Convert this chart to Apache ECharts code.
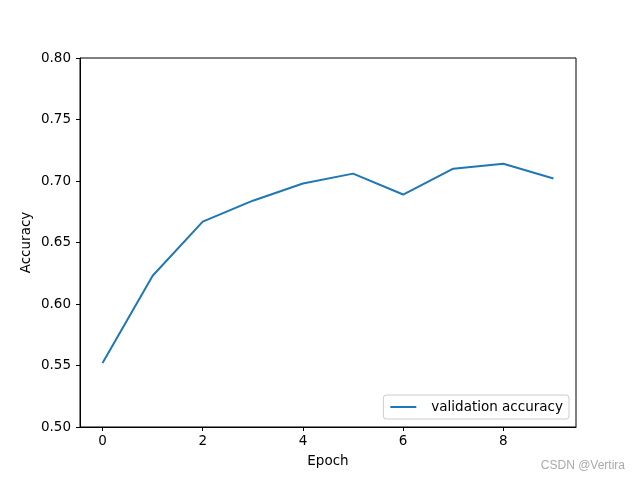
<!DOCTYPE html>
<html>
<head>
<meta charset="utf-8">
<script src="https://cdn.jsdelivr.net/npm/echarts@6/dist/echarts.min.js"></script>
<style>html,body{margin:0;padding:0;background:#fff}#c{width:640px;height:480px}</style>
</head>
<body>
<div id="c"></div>
<script>
const epochs = [0, 1, 2, 3, 4, 5, 6, 7, 8, 9];
const valAcc = [0.552, 0.623, 0.667, 0.684, 0.698, 0.706, 0.689, 0.710, 0.714, 0.702];
const xTicks = [0, 2, 4, 6, 8];
const seriesName = 'validation accuracy';

const font = 'DejaVu Sans';
const chart = echarts.init(document.getElementById('c'), null, {renderer: 'canvas'});
chart.setOption({
  animation: false,
  backgroundColor: '#fff',
  grid: {left: 80, right: 64, top: 58, bottom: 53, show: true, borderColor: '#000', borderWidth: 1, backgroundColor: 'transparent'},
  xAxis: {
    type: 'value', min: -0.45, max: 9.45,
    name: 'Epoch', nameLocation: 'middle', nameGap: 27,
    nameTextStyle: {fontFamily: font, fontSize: 13.5, color: '#000'},
    axisLine: {show: true, onZero: false, lineStyle: {color: '#000', width: 1}},
    axisTick: {show: true, length: 4, lineStyle: {color: '#000'}, customValues: xTicks},
    axisLabel: {fontFamily: font, fontSize: 13.5, color: '#000', margin: 7, customValues: xTicks},
    splitLine: {show: false}
  },
  yAxis: {
    type: 'value', min: 0.5, max: 0.8, interval: 0.05,
    name: 'Accuracy', nameLocation: 'middle', nameGap: 47, nameMoveOverlap: false,
    nameTextStyle: {fontFamily: font, fontSize: 13.5, color: '#000'},
    axisLine: {show: true, onZero: false, lineStyle: {color: '#000', width: 1}},
    axisTick: {show: true, length: 4, lineStyle: {color: '#000'}},
    axisLabel: {fontFamily: font, fontSize: 13.5, color: '#000', margin: 9, formatter: v => v.toFixed(2)},
    splitLine: {show: false}
  },
  legend: {
    data: [{name: seriesName, icon: 'rect'}],
    right: 71, bottom: 61,
    itemWidth: 26, itemHeight: 2, itemGap: 10,
    padding: [5, 6, 5, 7],
    borderColor: '#cccccc', borderWidth: 1, borderRadius: 3,
    backgroundColor: '#fff',
    textStyle: {fontFamily: font, fontSize: 13.5, color: '#000', padding: [0, 0, 0, 10]}
  },
  graphic: [{
    type: 'text', right: 15, top: 460,
    style: {text: 'CSDN @Vertira', font: '12px "Liberation Sans", Arial, sans-serif', fill: '#aaaaaa'}
  }],
  series: [{
    name: seriesName, type: 'line',
    data: epochs.map((e, i) => [e, valAcc[i]]),
    showSymbol: false, symbol: 'none',
    lineStyle: {color: '#1f77b4', width: 2},
    itemStyle: {color: '#1f77b4'}
  }]
});
</script>
</body>
</html>
